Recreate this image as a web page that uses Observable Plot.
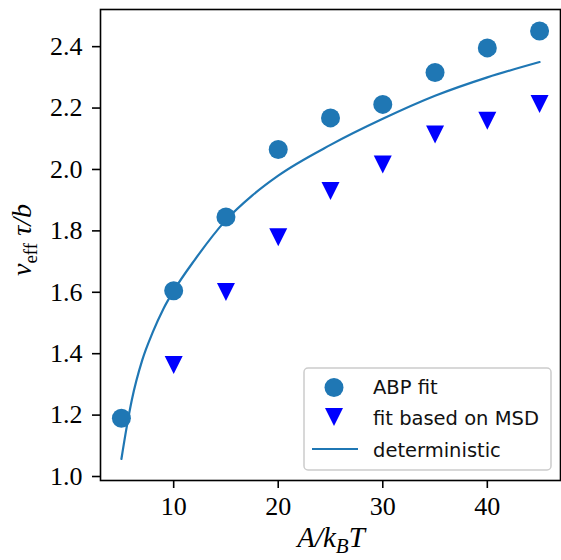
<!DOCTYPE html>
<html>
<head>
<meta charset="utf-8">
<script src="https://cdn.jsdelivr.net/npm/d3@7"></script>
<script src="https://cdn.jsdelivr.net/npm/@observablehq/plot@0.6"></script>
<style>
  body { margin: 0; background: #fff; }
  #chart { width: 561px; height: 560px; }
</style>
</head>
<body>
<div id="chart"></div>
<script>
// ---- data ----
const abpX = [5, 10, 15, 20, 25, 30, 35, 40, 45];
const abpY = [1.190, 1.605, 1.845, 2.065, 2.168, 2.212, 2.316, 2.396, 2.451];

const msdX = [10, 15, 20, 25, 30, 35, 40, 45];
const msdY = [1.363, 1.601, 1.779, 1.930, 2.016, 2.114, 2.159, 2.213];

const detX = [5, 5.5, 6, 7, 8, 9, 10, 12, 15, 17.5, 20, 25, 30, 35, 40, 45];
const detY = [1.057, 1.160, 1.250, 1.380, 1.470, 1.545, 1.605, 1.705, 1.835, 1.915, 1.980, 2.080, 2.165, 2.240, 2.300, 2.350];

const xTicks = [10, 20, 30, 40];
const yTicks = [1.0, 1.2, 1.4, 1.6, 1.8, 2.0, 2.2, 2.4];

const legendLabels = ["ABP fit", "fit based on MSD", "deterministic"];

// tables built from the arrays
const abp = abpX.map((x, i) => ({x, y: abpY[i]}));
const msd = msdX.map((x, i) => ({x, y: msdY[i]}));
const det = detX.map((x, i) => ({x, y: detY[i]}));

const C0 = "#1f77b4";
const BLUE = "#0000ff";

// downward triangle, bbox-centred like matplotlib's "v"
const triDown = {
  draw(context, size) {
    const h = Math.sqrt(size / Math.PI);
    context.moveTo(-h, -h);
    context.lineTo(h, -h);
    context.lineTo(0, h);
    context.closePath();
  }
};

const serif = "'Liberation Serif', 'DejaVu Serif', serif";

const svg = Plot.plot({
  width: 561,
  height: 560,
  marginLeft: 100,
  marginRight: 1,
  marginTop: 9,
  marginBottom: 80,
  style: {background: "white", color: "black"},
  x: {domain: [3, 47]},
  y: {domain: [0.987, 2.521]},
  marks: [
    Plot.line(det, {x: "x", y: "y", stroke: C0, strokeWidth: 2.2, curve: "monotone-x"}),
    Plot.dot(abp, {x: "x", y: "y", r: 9.5, fill: C0, stroke: "none"}),
    Plot.dot(msd, {x: "x", y: "y", r: 9, symbol: triDown, fill: BLUE, stroke: "none"}),
    Plot.axisX({ticks: xTicks, tickFormat: d => String(d), tickSize: 8, tickPadding: 8,
                strokeWidth: 1.6, label: null}),
    Plot.axisY({ticks: yTicks, tickFormat: d => d.toFixed(1), tickSize: 8, tickPadding: 10,
                strokeWidth: 1.6, label: null}),
    Plot.frame({stroke: "black", strokeWidth: 1.6})
  ]
});

const s = d3.select(svg);

// tick label font (serif, like the LaTeX-rendered reference)
s.selectAll("text")
  .style("font-family", serif, "important")
  .style("font-size", "26px", "important")
  .style("fill", "black");

// x axis label  A/k_B T
const xl = s.append("text")
  .attr("x", 331).attr("y", 547)
  .attr("text-anchor", "middle")
  .attr("font-family", serif).attr("font-size", 29).attr("font-style", "italic")
  .attr("fill", "black");
xl.append("tspan").text("A/k");
xl.append("tspan").attr("dy", 6).attr("font-size", 21).text("B");
xl.append("tspan").attr("dy", -6).text("T");

// y axis label  v_eff τ/b
const yl = s.append("text")
  .attr("transform", "translate(31,240) rotate(-90)")
  .attr("text-anchor", "middle")
  .attr("font-family", serif).attr("font-size", 28)
  .attr("fill", "black");
yl.append("tspan").attr("font-style", "italic").text("v");
yl.append("tspan").attr("dy", 6).attr("font-size", 19).text("eff");
yl.append("tspan").attr("dy", -6).attr("font-style", "italic").text(" τ/b");

// legend
const lg = s.append("g");
lg.append("rect")
  .attr("x", 304).attr("y", 368).attr("width", 247).attr("height", 102).attr("rx", 4)
  .attr("fill", "white").attr("fill-opacity", 0.8)
  .attr("stroke", "#cccccc").attr("stroke-width", 1.5);
lg.append("circle").attr("cx", 334).attr("cy", 387.5).attr("r", 9.5).attr("fill", C0);
lg.append("path").attr("d", "M325,408L343,408L334,426Z").attr("fill", BLUE);
lg.append("line").attr("x1", 312).attr("x2", 358).attr("y1", 449).attr("y2", 449)
  .attr("stroke", C0).attr("stroke-width", 2.2);
const baselines = [393.5, 425, 456.5];
legendLabels.forEach((t, i) => {
  lg.append("text").attr("x", 373).attr("y", baselines[i])
    .attr("text-anchor", "start")
    .attr("font-family", "'DejaVu Sans', sans-serif").attr("font-size", 19.5)
    .attr("fill", "#111").text(t);
});

document.getElementById("chart").appendChild(svg);
</script>
</body>
</html>
